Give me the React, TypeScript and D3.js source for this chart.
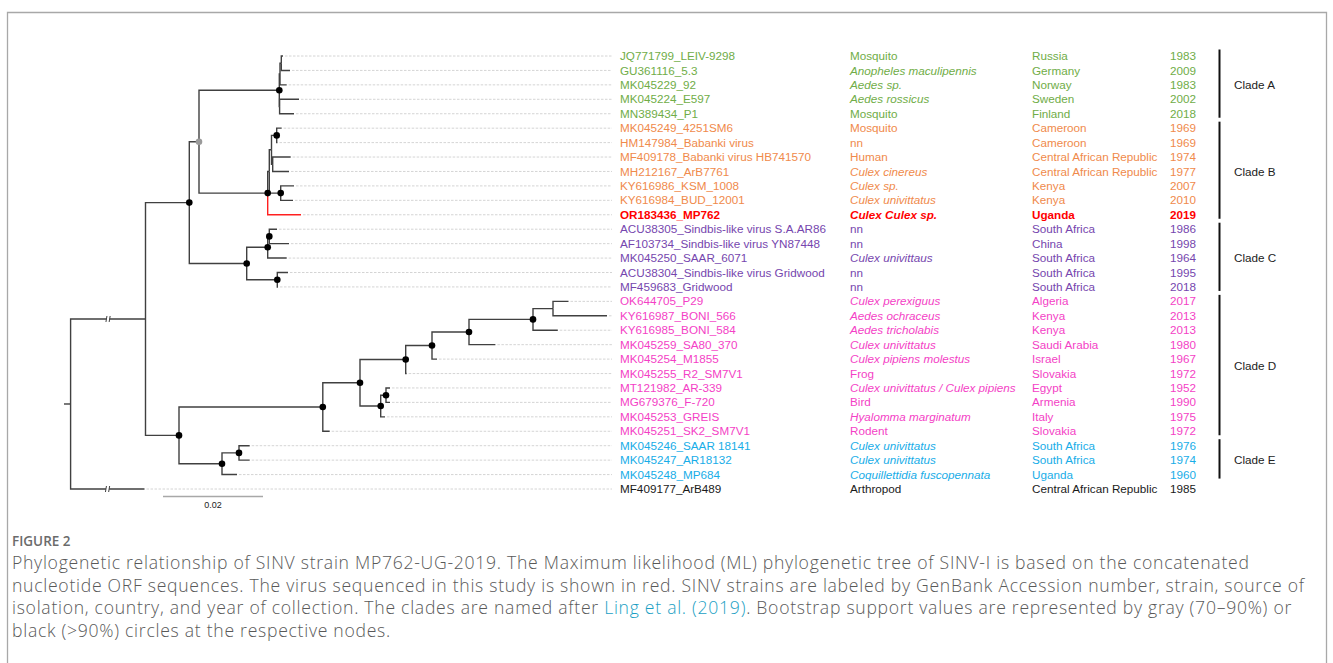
import React, { useEffect, useRef } from 'react';
import * as d3 from 'd3';

// ML tree (Newick). Branch lengths in substitutions/site, internal labels = bootstrap %.
// "ingroup" marks the truncated branch from the root.
const newick = `(
  (
    (
      (
        (((JQ771799:0.00034,GU361116:0.00174)0:0.00026,MK045229:0.00134)0:0.00014,(MK045224:0.00388,MN389434:0.00288)0:0.00006)100:0.01606,
        ((((MK045249:0.001,HM147984:0.00016)100:0.00104,(MF409178:0.0036,MH212167:0.00326)0:0.00024)0:0.00044,(KY616986:0.00266,KY616984:0.00246)100:0.00228)0:0.00032,OR183436:0.00666)100:0.01374
      )80:0.00194,
      (((ACU38305:0.00154,AF103734:0.00394)100:0.00032,MK045250:0.0038)100:0.0042,(ACU38304:0.00214,MF459683:0.00014)100:0.00612)100:0.01148
    )100:0.00876,
    (
      (((((((OK644705:0.0031,KY616987:0.0108)0:0.004,KY616985:0.00496)100:0.0128,MK045259:0.00528)100:0.0074,MK045254:0.001)100:0.00526,MK045255:0.0002)100:0.00914,((MT121982:0.0008,MG679376:0.0008)100:0.00106,MK045253:0.00086)100:0.00414)100:0.00744,MK045251:0.00138)100:0.02876,
      ((MK045246:0.00214,MK045247:0.00214)100:0.0034,MK045248:0.003)100:0.0086
    )100:0.0067
  )ingroup:0.01498,
  MF409177:0.01478
):0.00132;`;

const brokenBranches = ['ingroup', 'MF409177'];
const studyStrain = 'OR183436';

// tip table, in tree order
const accessions = [
  'JQ771799', 'GU361116', 'MK045229', 'MK045224', 'MN389434',
  'MK045249', 'HM147984', 'MF409178', 'MH212167', 'KY616986', 'KY616984', 'OR183436',
  'ACU38305', 'AF103734', 'MK045250', 'ACU38304', 'MF459683',
  'OK644705', 'KY616987', 'KY616985', 'MK045259', 'MK045254', 'MK045255', 'MT121982', 'MG679376', 'MK045253', 'MK045251',
  'MK045246', 'MK045247', 'MK045248',
  'MF409177',
];
const strains = [
  'LEIV-9298', '5.3', '92', 'E597', 'P1',
  '4251SM6', 'Babanki virus', 'Babanki virus HB741570', 'ArB7761', 'KSM_1008', 'BUD_12001', 'MP762',
  'Sindbis-like virus S.A.AR86', 'Sindbis-like virus YN87448', 'SAAR_6071', 'Sindbis-like virus Gridwood', 'Gridwood',
  'P29', 'BONI_566', 'BONI_584', 'SA80_370', 'M1855', 'R2_SM7V1', 'AR-339', 'F-720', 'GREIS', 'SK2_SM7V1',
  'SAAR 18141', 'AR18132', 'MP684',
  'ArB489',
];
const hosts = [
  'Mosquito', 'Anopheles maculipennis', 'Aedes sp.', 'Aedes rossicus', 'Mosquito',
  'Mosquito', 'nn', 'Human', 'Culex cinereus', 'Culex sp.', 'Culex univittatus', 'Culex Culex sp.',
  'nn', 'nn', 'Culex univittaus', 'nn', 'nn',
  'Culex perexiguus', 'Aedes ochraceus', 'Aedes tricholabis', 'Culex univittatus', 'Culex pipiens molestus', 'Frog',
  'Culex univittatus / Culex pipiens', 'Bird', 'Hyalomma marginatum', 'Rodent',
  'Culex univittatus', 'Culex univittatus', 'Coquillettidia fuscopennata',
  'Arthropod',
];
const commonHosts = ['Mosquito', 'nn', 'Human', 'Frog', 'Bird', 'Rodent', 'Arthropod'];
const countries = [
  'Russia', 'Germany', 'Norway', 'Sweden', 'Finland',
  'Cameroon', 'Cameroon', 'Central African Republic', 'Central African Republic', 'Kenya', 'Kenya', 'Uganda',
  'South Africa', 'China', 'South Africa', 'South Africa', 'South Africa',
  'Algeria', 'Kenya', 'Kenya', 'Saudi Arabia', 'Israel', 'Slovakia', 'Egypt', 'Armenia', 'Italy', 'Slovakia',
  'South Africa', 'South Africa', 'Uganda',
  'Central African Republic',
];
const years = [
  1983, 2009, 1983, 2002, 2018,
  1969, 1969, 1974, 1977, 2007, 2010, 2019,
  1986, 1998, 1964, 1995, 2018,
  2017, 2013, 2013, 1980, 1967, 1972, 1952, 1990, 1975, 1972,
  1976, 1974, 1960,
  1985,
];
const clades = [
  'A', 'A', 'A', 'A', 'A',
  'B', 'B', 'B', 'B', 'B', 'B', 'B',
  'C', 'C', 'C', 'C', 'C',
  'D', 'D', 'D', 'D', 'D', 'D', 'D', 'D', 'D', 'D',
  'E', 'E', 'E',
  '',
];
const cladeNames = ['A', 'B', 'C', 'D', 'E'];
const scaleBarLength = 0.02;

const captionLines = [
  'Phylogenetic relationship of SINV strain MP762-UG-2019. The Maximum likelihood (ML) phylogenetic tree of SINV-I is based on the concatenated',
  'nucleotide ORF sequences. The virus sequenced in this study is shown in red. SINV strains are labeled by GenBank Accession number, strain, source of',
  'isolation, country, and year of collection. The clades are named after |Ling et al. (2019)|. Bootstrap support values are represented by gray (70\u201390%) or',
  'black (>90%) circles at the respective nodes.',
];

const cladeColor: Record<string, string> = {
  A: '#70ad47', B: '#f08a4b', C: '#7646ae', D: '#f43fc6', E: '#17ade8', '': '#1a1a1a',
};

type TNode = { name: string; support: number; length: number; children?: TNode[] };

function parseNewick(src: string): TNode {
  const s = src.replace(/\s+/g, '');
  let i = 0;
  const read = (): TNode => {
    const n: TNode = { name: '', support: NaN, length: 0 };
    if (s[i] === '(') {
      n.children = [];
      i++;
      n.children.push(read());
      while (s[i] === ',') { i++; n.children.push(read()); }
      i++;
    }
    let label = '';
    while (i < s.length && !':,);'.includes(s[i])) label += s[i++];
    if (n.children && label !== '' && !isNaN(+label)) n.support = +label;
    else n.name = label;
    if (s[i] === ':') {
      i++;
      let num = '';
      while (i < s.length && !',);'.includes(s[i])) num += s[i++];
      n.length = +num;
    }
    return n;
  };
  return read();
}

const App = () => {
  const svgRef = useRef<SVGSVGElement>(null);

  useEffect(() => {
    if (!svgRef.current) return;
    const svg = d3.select(svgRef.current);
    svg.selectAll('*').remove();

    const font = '"Liberation Sans", Arial, sans-serif';
    const fs = 11.7;

    // frame
    svg.append('path')
      .attr('d', 'M7.5,700V12.5H1326.5V700')
      .attr('fill', 'none')
      .attr('stroke', '#a8a8a8')
      .attr('stroke-width', 1.3);

    const root = d3.hierarchy<TNode>(parseNewick(newick));
    const dist = new Map<any, number>();
    const row = new Map<any, number>();
    root.eachBefore(d => dist.set(d, (d.parent ? dist.get(d.parent)! : 0) + d.data.length));
    const leaves = root.leaves();
    root.eachAfter(d => row.set(d, d.children ? d3.mean(d.children, c => row.get(c)!)! : leaves.indexOf(d)));

    const x = d3.scaleLinear().domain([0, scaleBarLength]).range([64, 164]);
    const y = d3.scaleLinear().domain([0, accessions.length - 1]).range([56, 489]);

    const g = svg.append('g');

    // dotted guides from tips to labels
    g.selectAll('line.guide')
      .data(leaves)
      .join('line')
      .attr('class', 'guide')
      .attr('x1', d => x(dist.get(d)!) + 2)
      .attr('x2', 612)
      .attr('y1', d => y(row.get(d)!))
      .attr('y2', d => y(row.get(d)!))
      .attr('stroke', '#c9c9c9')
      .attr('stroke-width', 0.8)
      .attr('stroke-dasharray', '2.5,1.5');

    // root stub
    g.append('line')
      .attr('x1', x(0)).attr('x2', x(dist.get(root)!))
      .attr('y1', y(row.get(root)!)).attr('y2', y(row.get(root)!))
      .attr('stroke', '#404040').attr('stroke-width', 1.4);

    // elbow edges
    const links = root.links();
    g.selectAll('path.edge')
      .data(links)
      .join('path')
      .attr('class', 'edge')
      .attr('d', l => `M${x(dist.get(l.source)!)},${y(row.get(l.source)!)}V${y(row.get(l.target)!)}H${x(dist.get(l.target)!)}`)
      .attr('fill', 'none')
      .attr('stroke', l => l.target.data.name === studyStrain ? '#ff2020' : '#404040')
      .attr('stroke-width', 1.4);

    // break marks on truncated branches
    const broken = links.filter(l => brokenBranches.includes(l.target.data.name));
    const bm = g.selectAll('g.break')
      .data(broken)
      .join('g')
      .attr('class', 'break')
      .attr('transform', l => `translate(${(x(dist.get(l.source)!) + x(dist.get(l.target)!)) / 2},${y(row.get(l.target)!)})`);
    bm.append('rect').attr('x', -1.6).attr('y', -2).attr('width', 3.2).attr('height', 4).attr('fill', '#fff');
    [-1.6, 1.6].forEach(dx => {
      bm.append('line')
        .attr('x1', dx - 0.5).attr('x2', dx + 0.5)
        .attr('y1', 3).attr('y2', -3)
        .attr('stroke', '#404040').attr('stroke-width', 1);
    });

    // bootstrap circles
    const supported = root.descendants().filter(d => d.children && d.data.support >= 70);
    g.selectAll('circle.bs')
      .data(supported)
      .join('circle')
      .attr('class', 'bs')
      .attr('cx', d => x(dist.get(d)!))
      .attr('cy', d => y(row.get(d)!))
      .attr('r', 3.3)
      .attr('fill', d => d.data.support > 90 ? '#000' : '#9a9a9a');

    // scale bar
    const sb = svg.append('g').attr('transform', 'translate(0,496.5)');
    sb.append('line')
      .attr('x1', 163).attr('x2', 163 + x(scaleBarLength) - x(0))
      .attr('stroke', '#a8a8a8').attr('stroke-width', 1.6);
    sb.append('text')
      .attr('x', 163 + (x(scaleBarLength) - x(0)) / 2).attr('y', 11)
      .attr('text-anchor', 'middle')
      .style('font-family', font).style('font-size', '9px').style('fill', '#222')
      .text(String(scaleBarLength));

    // label columns
    const rows = d3.range(accessions.length);
    const cols: { x: number; text: (i: number) => string; italic?: (i: number) => boolean }[] = [
      { x: 620, text: i => `${accessions[i]}_${strains[i]}` },
      { x: 850, text: i => hosts[i], italic: i => !commonHosts.includes(hosts[i]) },
      { x: 1032, text: i => countries[i] },
      { x: 1170, text: i => String(years[i]) },
    ];
    cols.forEach(c => {
      svg.append('g').selectAll('text')
        .data(rows)
        .join('text')
        .attr('x', c.x)
        .attr('y', i => y(i))
        .attr('dy', '0.35em')
        .style('font-family', font)
        .style('font-size', `${fs}px`)
        .style('font-style', i => (c.italic && c.italic(i) ? 'italic' : 'normal'))
        .style('font-weight', i => (accessions[i] === studyStrain ? 'bold' : 'normal'))
        .style('fill', i => (accessions[i] === studyStrain ? '#ff0000' : cladeColor[clades[i]]))
        .text(i => c.text(i));
    });

    // clade bars
    const cg = svg.append('g');
    cladeNames.forEach(cn => {
      const first = clades.indexOf(cn);
      const last = clades.lastIndexOf(cn);
      cg.append('line')
        .attr('x1', 1219.5).attr('x2', 1219.5)
        .attr('y1', y(first) - 6.5).attr('y2', y(last) + 4)
        .attr('stroke', '#111').attr('stroke-width', 2);
      cg.append('text')
        .attr('x', 1234).attr('y', y((first + last) / 2)).attr('dy', '0.35em')
        .style('font-family', font).style('font-size', `${fs}px`).style('fill', '#222')
        .text(`Clade ${cn}`);
    });

    // caption
    const capFont = '"Open Sans", "Noto Sans", sans-serif';
    svg.append('text')
      .attr('x', 12).attr('y', 546)
      .style('font-family', capFont).style('font-size', '13.5px').style('font-weight', 600)
      .style('fill', '#6b6b6b')
      .text('FIGURE 2');
    captionLines.forEach((ln, k) => {
      const t = svg.append('text')
        .attr('x', 12).attr('y', 569 + k * 22.6)
        .style('font-family', capFont).style('font-size', '17.6px').style('font-weight', 300)
        .style('letter-spacing', '0.72px')
        .style('fill', '#595959');
      ln.split('|').forEach((part, j) => {
        t.append('tspan').style('fill', j % 2 ? '#1b9fc4' : '#595959').text(part);
      });
    });
  }, []);

  return (
    <div style={{ position: 'absolute', left: 0, top: 0, width: 1333, height: 663, background: '#fff' }}>
      <svg ref={svgRef} width={1333} height={663}></svg>
    </div>
  );
};

export default App;
